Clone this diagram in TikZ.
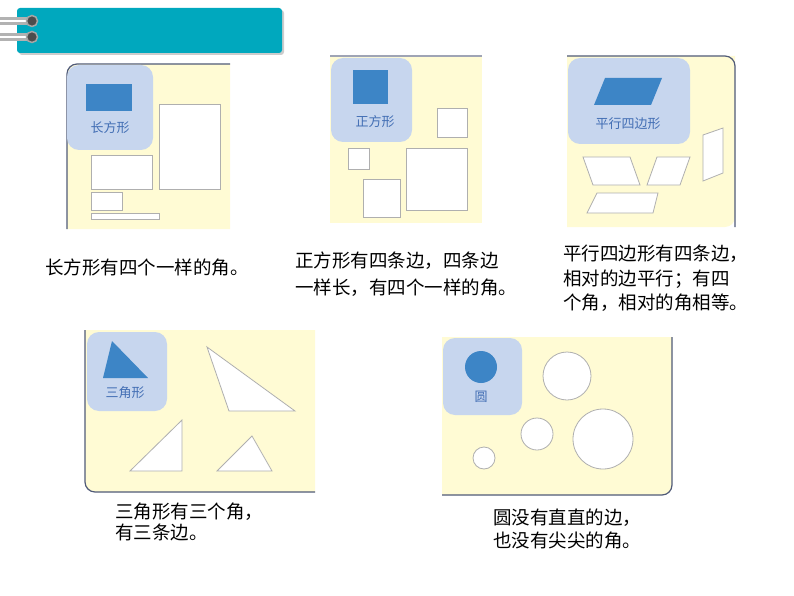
\documentclass[tikz,border=0pt]{standalone}
\usepackage{fontspec}
\setmainfont{Noto Sans CJK SC}
\definecolor{headteal}{RGB}{0,168,190}
\definecolor{panelyellow}{RGB}{255,251,212}
\definecolor{tagblue}{RGB}{199,214,238}
\definecolor{figblue}{RGB}{61,133,198}
\definecolor{tagtext}{RGB}{66,110,180}
\definecolor{edgeslate}{RGB}{80,90,120}
\definecolor{outlinegray}{RGB}{175,175,175}

\begin{document}
\begin{tikzpicture}[
  x=1pt, y=-1pt,
  edge/.style     = {draw=edgeslate, line width=1.2pt, rounded corners=10pt},
  topedge/.style  = {draw=edgeslate!55, line width=1.2pt},
  tag/.style      = {fill=tagblue, rounded corners=12pt},
  bluefig/.style  = {fill=figblue},
  whitefig/.style = {fill=white, draw=outlinegray, line width=0.8pt},
  taglabel/.style = {font=\fontsize{13}{13}\selectfont, text=tagtext, inner sep=0pt},
  note/.style     = {anchor=north west, align=left, inner sep=0pt},
]
\useasboundingbox (0,0) rectangle (794,596);
% Title bar with rings
\fill[black!20, rounded corners=3pt] (19,10) rectangle (284,55);
\fill[headteal, rounded corners=3pt] (17,8) rectangle (282,53);
\foreach \y in {21,37} {
  \draw[line width=8pt, black!30] (0,\y) -- (32,\y);
  \draw[line width=1.5pt, white] (0,\y) -- (32,\y);
  \fill[black!70] (32,\y) circle (5.5pt);
  \draw[black!35, line width=1.5pt] (32,\y) circle (5.5pt);
}
% Rectangle panel
\fill[panelyellow] (230,229) -- (67,229) [rounded corners=10pt] -- (67,64) [sharp corners] -- (230,64) -- cycle;
\draw[edge] (67,229) -- (67,64) -- (230,64);
\fill[tag] (67,65) rectangle (153,150);
\fill[bluefig] (86,84) rectangle (132,111);
\node[taglabel] (rectTag) at (110,128) {长方形};
\draw[whitefig] (159,104) rectangle (220,189);
\draw[whitefig] (91,155) rectangle (152,189);
\draw[whitefig] (91,192) rectangle (122,210);
\draw[whitefig] (91,213) rectangle (159,219);
% Square panel
\fill[panelyellow] (330,56) rectangle (482,223);
\draw[topedge] (330,56) -- (482,56);
\fill[tag] (331,58) rectangle (412,142);
\fill[bluefig] (353,70) rectangle (388,104);
\node[taglabel] (squareTag) at (375,122) {正方形};
\draw[whitefig] (437,108) rectangle (467,137);
\draw[whitefig] (348,148) rectangle (369,169);
\draw[whitefig] (406,148) rectangle (467,210);
\draw[whitefig] (363,179) rectangle (400,217);
% Parallelogram panel
\fill[panelyellow] (567,227) -- (567,56) -- (735,56) [rounded corners=10pt] -- (735,227) [sharp corners] -- cycle;
\draw[edge] (567,56) -- (735,56) -- (735,227);
\fill[tag] (568,58) rectangle (690,144);
\fill[bluefig] (605,78) -- (662,78) -- (651,105) -- (594,105) -- cycle;
\node[taglabel] (paraTag) at (628,124) {平行四边形};
\draw[whitefig] (583,157) -- (630,157) -- (640,185) -- (593,185) -- cycle;
\draw[whitefig] (657,157) -- (690,157) -- (680,185) -- (647,185) -- cycle;
\draw[whitefig] (597,193) -- (658,193) -- (653,213) -- (587,213) -- cycle;
\draw[whitefig] (703,135) -- (723,128) -- (723,173) -- (703,181) -- cycle;
% Triangle panel
\fill[panelyellow] (315,330) -- (315,492) [rounded corners=10pt] -- (85,492) [sharp corners] -- (85,330) -- cycle;
\draw[edge] (85,330) -- (85,492) -- (315,492);
\fill[tag] (87,332) rectangle (167,411);
\fill[bluefig] (112,341) -- (148,378) -- (103,378) -- cycle;
\node[taglabel] (triTag) at (125,393) {三角形};
\draw[whitefig] (207,347) -- (295,411) -- (229,411) -- cycle;
\draw[whitefig] (182,420) -- (182,471) -- (130,471) -- cycle;
\draw[whitefig] (252,436) -- (272,471) -- (217,471) -- cycle;
% Circle panel
\fill[panelyellow] (442,495) -- (442,337) -- (672,337) [rounded corners=10pt] -- (672,495) [sharp corners] -- cycle;
\draw[edge] (672,337) -- (672,495) -- (442,495);
\fill[tag] (443,338) rectangle (522,415);
\fill[bluefig] (481,367) circle (16pt);
\node[taglabel] (circTag) at (481,397) {圆};
\draw[whitefig] (567,376) circle (24pt);
\draw[whitefig] (537,434) circle (16pt);
\draw[whitefig] (603,439) circle (30pt);
\draw[whitefig] (484,458) circle (11pt);
% Notes
\node[note, font=\fontsize{18.5}{24}\selectfont] (rectNote) at (45,259) {长方形有四个一样的角。};
\node[note, font=\fontsize{18.5}{27}\selectfont] (squareNote) at (295,252) {正方形有四条边，四条边\\一样长，有四个一样的角。};
\node[note, font=\fontsize{18.5}{24.5}\selectfont] (paraNote) at (563,245) {平行四边形有四条边，\\相对的边平行；有四\\个角，相对的角相等。};
\node[note, font=\fontsize{18.5}{21}\selectfont] (triNote) at (115,503) {三角形有三个角，\\有三条边。};
\node[note, font=\fontsize{18.5}{23}\selectfont] (circNote) at (493,509) {圆没有直直的边，\\也没有尖尖的角。};
\end{tikzpicture}
\end{document}
